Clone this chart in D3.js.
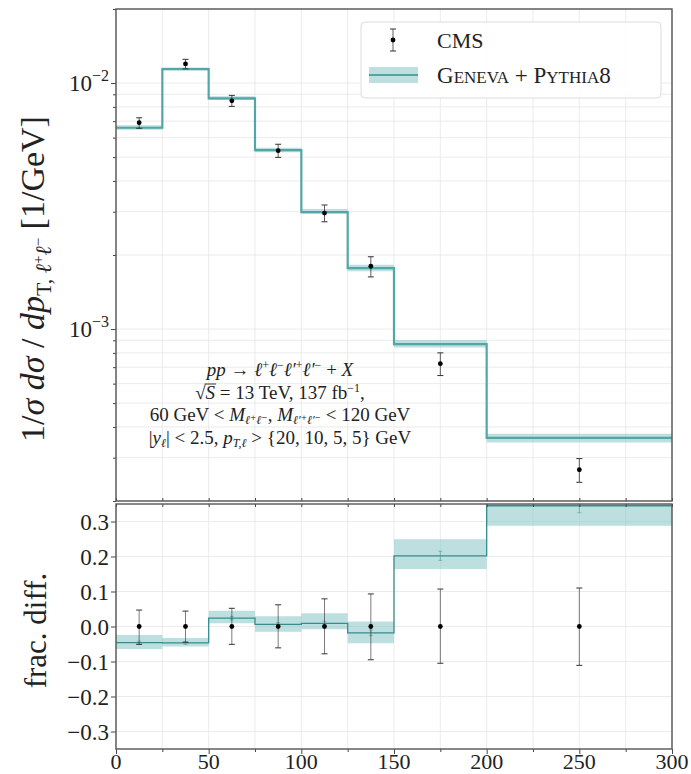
<!DOCTYPE html>
<html>
<head>
<meta charset="utf-8">
<script src="https://cdn.jsdelivr.net/npm/d3@7"></script>
<style>
  body { margin: 0; background: #fff; }
  svg text { font-family: "Liberation Serif", "DejaVu Serif", serif; fill: #222; }
</style>
</head>
<body>
<div id="chart"></div>
<script>
// bins in pT (GeV)
var binEdges = [0, 25, 50, 75, 100, 125, 150, 200, 300];
var binCenters = [12.5, 37.5, 62.5, 87.5, 112.5, 137.5, 175, 250];

// Geneva + Pythia8 prediction, 1/sigma dsigma/dpT [1/GeV]
var genevaValues = [6.58e-3, 1.14e-2, 8.67e-3, 5.34e-3, 2.99e-3, 1.77e-3, 8.69e-4, 3.61e-4];
// fractional difference wrt CMS, with scale band
var genevaFrac   = [-0.046, -0.047, 0.024, 0.006, 0.009, -0.018, 0.202, 0.345];
var genevaFracLo = [-0.064, -0.057, 0.009, -0.015, -0.008, -0.048, 0.164, 0.288];
var genevaFracHi = [-0.024, -0.033, 0.045, 0.029, 0.038, 0.014, 0.249, 0.400];
var genevaStatErr = [0.004, 0.004, 0.005, 0.005, 0.006, 0.008, 0.013, 0.020];

// CMS data
var cmsValues  = [6.90e-3, 1.196e-2, 8.47e-3, 5.31e-3, 2.96e-3, 1.80e-3, 7.23e-4, 2.68e-4];
var cmsErrUp   = [0.047, 0.044, 0.052, 0.062, 0.079, 0.093, 0.107, 0.110];
var cmsErrDown = [0.051, 0.045, 0.051, 0.061, 0.078, 0.095, 0.105, 0.111];

var xTicks = [0, 50, 100, 150, 200, 250, 300];
var xMinorTicks = [25, 75, 125, 175, 225, 275];
var yTopTicks = [1e-3, 1e-2];
var yRatioTicks = [-0.3, -0.2, -0.1, 0.0, 0.1, 0.2, 0.3];

var W = 691, H = 774;
var left = 116, right = 672;
var topPanel = { top: 9, bottom: 501 };
var ratioPanel = { top: 504, bottom: 749 };
var lineTop = '#52a6a6', lineRatio = '#3a8c8c', bandCol = '#86c4c4';
var frameCol = '#555', gridCol = '#e6e6e6';

var svg = d3.select('#chart').append('svg')
  .attr('width', W).attr('height', H);

var x = d3.scaleLinear().domain([0, 300]).range([left, right]);
var yTop = d3.scaleLog().domain([2e-4, 2e-2]).range([topPanel.bottom, topPanel.top]);
var yRatio = d3.scaleLinear().domain([-0.35, 0.35]).range([ratioPanel.bottom, ratioPanel.top]);

var defs = svg.append('defs');
defs.append('clipPath').attr('id', 'clipTop').append('rect')
  .attr('x', left).attr('y', topPanel.top).attr('width', right - left).attr('height', topPanel.bottom - topPanel.top);
defs.append('clipPath').attr('id', 'clipRatio').append('rect')
  .attr('x', left).attr('y', ratioPanel.top).attr('width', right - left).attr('height', ratioPanel.bottom - ratioPanel.top);

// log minor ticks 2..9 per decade
var yTopMinor = [];
[1e-4, 1e-3, 1e-2].forEach(d => {
  for (var k = 2; k <= 9; k++) {
    var v = d * k;
    if (v >= 2e-4 && v <= 2e-2) yTopMinor.push(v);
  }
});

// rich text: segs = [text, {size, it, shift}]; shift is baseline offset (px, + = down)
function rich(sel, segs, base) {
  var cur = 0;
  segs.forEach(s => {
    var o = s[1] || {};
    var sh = o.shift || 0;
    var t = sel.append('tspan').text(s[0]).attr('font-size', o.size || base);
    if (o.it) t.attr('font-style', 'italic');
    if (sh !== cur) { t.attr('dy', sh - cur); cur = sh; }
  });
}

// ---------- grids ----------
var gTop = svg.append('g');
var gRatio = svg.append('g');
var allX = xTicks.concat(xMinorTicks);

gTop.selectAll('.vgrid').data(allX).enter().append('line')
  .attr('x1', d => x(d)).attr('x2', d => x(d))
  .attr('y1', topPanel.top).attr('y2', topPanel.bottom)
  .attr('stroke', gridCol).attr('stroke-width', 0.8);
gTop.selectAll('.hgrid').data(yTopTicks.concat(yTopMinor)).enter().append('line')
  .attr('x1', left).attr('x2', right)
  .attr('y1', d => yTop(d)).attr('y2', d => yTop(d))
  .attr('stroke', gridCol).attr('stroke-width', 0.8);

gRatio.selectAll('.vgrid').data(allX).enter().append('line')
  .attr('x1', d => x(d)).attr('x2', d => x(d))
  .attr('y1', ratioPanel.top).attr('y2', ratioPanel.bottom)
  .attr('stroke', gridCol).attr('stroke-width', 0.8);
gRatio.selectAll('.hgrid').data(yRatioTicks).enter().append('line')
  .attr('x1', left).attr('x2', right)
  .attr('y1', d => yRatio(d)).attr('y2', d => yRatio(d))
  .attr('stroke', gridCol).attr('stroke-width', 0.8);

// ---------- step helpers ----------
function stepPoints(vals) {
  return binEdges.map((e, i) => [e, vals[Math.min(i, vals.length - 1)]]);
}

// ---------- top panel ----------
var topMarks = svg.append('g').attr('clip-path', 'url(#clipTop)');
var topLo = genevaValues.map((v, i) => v * (1 + genevaFracLo[i]) / (1 + genevaFrac[i]));
var topHi = genevaValues.map((v, i) => v * (1 + genevaFracHi[i]) / (1 + genevaFrac[i]));

var bandTop = d3.area().curve(d3.curveStepAfter)
  .x(d => x(d[0])).y0(d => yTop(d[1])).y1(d => yTop(d[2]));
topMarks.append('path')
  .datum(binEdges.map((e, i) => { var j = Math.min(i, 7); return [e, topLo[j], topHi[j]]; }))
  .attr('d', bandTop).attr('fill', bandCol).attr('fill-opacity', 0.55);

topMarks.append('path')
  .datum(stepPoints(genevaValues))
  .attr('d', d3.line().curve(d3.curveStepAfter).x(d => x(d[0])).y(d => yTop(d[1])))
  .attr('fill', 'none').attr('stroke', lineTop).attr('stroke-width', 2.2);

// CMS points top
var cmsTop = topMarks.selectAll('.cms').data(cmsValues).enter().append('g');
cmsTop.append('line')
  .attr('x1', (d, i) => x(binCenters[i])).attr('x2', (d, i) => x(binCenters[i]))
  .attr('y1', (d, i) => yTop(d * (1 + cmsErrUp[i]))).attr('y2', (d, i) => yTop(d * (1 - cmsErrDown[i])))
  .attr('stroke', '#333').attr('stroke-width', 0.8);
[cmsErrUp.map(e => 1 + e), cmsErrDown.map(e => 1 - e)].forEach(f => {
  cmsTop.append('line')
    .attr('x1', (d, i) => x(binCenters[i]) - 3).attr('x2', (d, i) => x(binCenters[i]) + 3)
    .attr('y1', (d, i) => yTop(d * f[i])).attr('y2', (d, i) => yTop(d * f[i]))
    .attr('stroke', '#333').attr('stroke-width', 1);
});
cmsTop.append('circle')
  .attr('cx', (d, i) => x(binCenters[i])).attr('cy', d => yTop(d))
  .attr('r', 2.4).attr('fill', '#000');

// ---------- ratio panel ----------
var ratioMarks = svg.append('g').attr('clip-path', 'url(#clipRatio)');
ratioMarks.append('path')
  .datum(binEdges.map((e, i) => { var j = Math.min(i, 7); return [e, genevaFracLo[j], genevaFracHi[j]]; }))
  .attr('d', d3.area().curve(d3.curveStepAfter).x(d => x(d[0])).y0(d => yRatio(d[1])).y1(d => yRatio(d[2])))
  .attr('fill', bandCol).attr('fill-opacity', 0.55);
ratioMarks.append('path')
  .datum(stepPoints(genevaFrac))
  .attr('d', d3.line().curve(d3.curveStepAfter).x(d => x(d[0])).y(d => yRatio(d[1])))
  .attr('fill', 'none').attr('stroke', lineRatio).attr('stroke-width', 1.3);

// geneva stat errors (small teal bars)
var gStat = ratioMarks.selectAll('.gstat').data(genevaFrac).enter().append('g');
gStat.append('line')
  .attr('x1', (d, i) => x(binCenters[i])).attr('x2', (d, i) => x(binCenters[i]))
  .attr('y1', (d, i) => yRatio(d + genevaStatErr[i])).attr('y2', (d, i) => yRatio(d - genevaStatErr[i]))
  .attr('stroke', lineRatio).attr('stroke-width', 0.7).attr('stroke-opacity', 0.7);
[1, -1].forEach(s => {
  gStat.append('line')
    .attr('x1', (d, i) => x(binCenters[i]) - 2).attr('x2', (d, i) => x(binCenters[i]) + 2)
    .attr('y1', (d, i) => yRatio(d + s * genevaStatErr[i])).attr('y2', (d, i) => yRatio(d + s * genevaStatErr[i]))
    .attr('stroke', lineRatio).attr('stroke-width', 0.7).attr('stroke-opacity', 0.7);
});

// CMS in ratio: zero with relative errors
var cmsR = ratioMarks.selectAll('.cmsr').data(binCenters).enter().append('g');
cmsR.append('line')
  .attr('x1', d => x(d)).attr('x2', d => x(d))
  .attr('y1', (d, i) => yRatio(cmsErrUp[i])).attr('y2', (d, i) => yRatio(-cmsErrDown[i]))
  .attr('stroke', '#444').attr('stroke-width', 0.7);
[cmsErrUp, cmsErrDown.map(e => -e)].forEach(arr => {
  cmsR.append('line')
    .attr('x1', d => x(d) - 3).attr('x2', d => x(d) + 3)
    .attr('y1', (d, i) => yRatio(arr[i])).attr('y2', (d, i) => yRatio(arr[i]))
    .attr('stroke', '#333').attr('stroke-width', 1);
});
cmsR.append('circle')
  .attr('cx', d => x(d)).attr('cy', yRatio(0)).attr('r', 2.4).attr('fill', '#000');

// ---------- axes ----------
function styleAxis(g) {
  g.select('.domain').remove();
  g.selectAll('.tick line').attr('stroke', '#444').attr('stroke-width', 1);
  g.selectAll('.tick text').remove();
}

svg.append('g').attr('transform', `translate(${left},0)`)
  .call(d3.axisLeft(yTop).tickValues(yTopTicks).tickSize(5).tickFormat(''))
  .call(styleAxis);
svg.append('g').attr('transform', `translate(${left},0)`)
  .call(d3.axisLeft(yTop).tickValues(yTopMinor).tickSize(3).tickFormat(''))
  .call(styleAxis);
svg.append('g').attr('transform', `translate(${left},0)`)
  .call(d3.axisLeft(yRatio).tickValues(yRatioTicks).tickSize(5).tickFormat(''))
  .call(styleAxis);
svg.append('g').attr('transform', `translate(0,${ratioPanel.bottom})`)
  .call(d3.axisBottom(x).tickValues(xTicks).tickSize(5).tickFormat(''))
  .call(styleAxis);
svg.append('g').attr('transform', `translate(0,${ratioPanel.bottom})`)
  .call(d3.axisBottom(x).tickValues(xMinorTicks).tickSize(3).tickFormat(''))
  .call(styleAxis);
// small inner ticks along the panel junction
svg.append('g').attr('transform', `translate(0,${topPanel.bottom})`)
  .call(d3.axisTop(x).tickValues(allX).tickSize(3).tickFormat(''))
  .call(styleAxis);
svg.append('g').attr('transform', `translate(0,${ratioPanel.top})`)
  .call(d3.axisBottom(x).tickValues(allX).tickSize(3).tickFormat(''))
  .call(styleAxis);

// frames
[topPanel, ratioPanel].forEach(p => {
  svg.append('rect')
    .attr('x', left).attr('y', p.top).attr('width', right - left).attr('height', p.bottom - p.top)
    .attr('fill', 'none').attr('stroke', frameCol).attr('stroke-width', 1.4);
});

// tick labels
svg.selectAll('.xl').data(xTicks).enter().append('text')
  .attr('x', d => x(d)).attr('y', 769).attr('text-anchor', 'middle')
  .attr('font-size', 22).text(d => d);

svg.selectAll('.yrl').data(yRatioTicks).enter().append('text')
  .attr('x', 109).attr('y', d => yRatio(d) + 8).attr('text-anchor', 'end')
  .attr('font-size', 23).text(d => (d < 0 ? '\u2212' : '') + Math.abs(d).toFixed(1));

var ytl = svg.selectAll('.ytl').data(yTopTicks).enter().append('text')
  .attr('x', 109).attr('y', d => yTop(d) + 8).attr('text-anchor', 'end').attr('font-size', 23);
ytl.append('tspan').text('10');
ytl.append('tspan').attr('font-size', 16).attr('dy', -10).text(d => '\u2212' + Math.round(-Math.log10(d)));

// axis titles
var yt = svg.append('text')
  .attr('transform', `translate(44,${(topPanel.top + topPanel.bottom) / 2 + 24}) rotate(-90)`)
  .attr('text-anchor', 'middle');
rich(yt, [
  ['1/'], ['σ', { it: true }], [' d', { it: true }], ['σ', { it: true }], [' /'], [' dp', { it: true }],
  ['T, ', { size: 22, shift: 7 }], ['ℓ', { size: 22, it: true, shift: 7 }], ['+', { size: 15, shift: -1 }],
  ['ℓ', { size: 22, it: true, shift: 7 }], ['\u2212', { size: 15, shift: -1 }],
  ['  [1/GeV]']
], 34);

svg.append('text')
  .attr('transform', `translate(46,${(ratioPanel.top + ratioPanel.bottom) / 2 + 4}) rotate(-90)`)
  .attr('text-anchor', 'middle').attr('font-size', 31).text('frac. diff.');

// ---------- annotation ----------
var cx = 280, fs = 19, ss = 12;
var l1 = svg.append('text').attr('x', cx).attr('y', 376).attr('text-anchor', 'middle');
rich(l1, [
  ['pp', { it: true }], [' → '],
  ['ℓ', { it: true }], ['+', { size: ss, shift: -7 }],
  ['ℓ', { it: true }], ['\u2212', { size: ss, shift: -7 }],
  ['ℓ′', { it: true }], ['+', { size: ss, shift: -7 }],
  ['ℓ′', { it: true }], ['\u2212', { size: ss, shift: -7 }],
  [' + '], ['X', { it: true }]
], fs);

var l2 = svg.append('text').attr('x', cx).attr('y', 398.5).attr('text-anchor', 'middle');
rich(l2, [
  ['√'], ['S', { it: true }], [' = 13 TeV, 137 fb'], ['\u22121', { size: ss, shift: -7 }], [',']
], fs);

var l3 = svg.append('text').attr('x', cx).attr('y', 421).attr('text-anchor', 'middle');
rich(l3, [
  ['60 GeV < '], ['M', { it: true }], ['ℓ⁺ℓ⁻', { size: ss, it: true, shift: 3 }],
  [', '], ['M', { it: true }], ['ℓ′⁺ℓ′⁻', { size: ss, it: true, shift: 3 }], [' < 120 GeV']
], fs);

var l4 = svg.append('text').attr('x', cx).attr('y', 444).attr('text-anchor', 'middle');
rich(l4, [
  ['|'], ['y', { it: true }], ['ℓ', { size: ss, it: true, shift: 3 }], ['| < 2.5, '],
  ['p', { it: true }], ['T,ℓ', { size: ss, it: true, shift: 3 }], [' > {20, 10, 5, 5} GeV']
], fs);

// sqrt overbar above the S
(function () {
  var n = l2.node();
  var s = n.getStartPositionOfChar(1), e = n.getEndPositionOfChar(1);
  svg.append('line')
    .attr('x1', s.x - 1).attr('x2', e.x + 1)
    .attr('y1', 398.5 - 14.5).attr('y2', 398.5 - 14.5)
    .attr('stroke', '#222').attr('stroke-width', 0.9);
})();

// ---------- legend ----------
var lg = svg.append('g');
lg.append('rect').attr('x', 361).attr('y', 22).attr('width', 300).attr('height', 76).attr('rx', 4)
  .attr('fill', '#fff').attr('fill-opacity', 0.85).attr('stroke', '#dcdcdc').attr('stroke-width', 1);
// CMS symbol
lg.append('line').attr('x1', 393).attr('x2', 393).attr('y1', 29).attr('y2', 51).attr('stroke', '#333').attr('stroke-width', 0.8);
[29, 51].forEach(yy => lg.append('line').attr('x1', 390).attr('x2', 396).attr('y1', yy).attr('y2', yy).attr('stroke', '#333'));
lg.append('circle').attr('cx', 393).attr('cy', 40).attr('r', 2.4).attr('fill', '#000');
lg.append('text').attr('x', 437).attr('y', 48).attr('font-size', 22).text('CMS');
// Geneva symbol
lg.append('rect').attr('x', 369).attr('y', 67).attr('width', 49).attr('height', 16).attr('fill', bandCol).attr('fill-opacity', 0.55);
lg.append('line').attr('x1', 369).attr('x2', 418).attr('y1', 75).attr('y2', 75).attr('stroke', lineRatio).attr('stroke-width', 1.6);
var gt = lg.append('text').attr('x', 437).attr('y', 83);
rich(gt, [['G'], ['ENEVA', { size: 17 }], [' + P'], ['YTHIA', { size: 17 }], ['8']], 23);
</script>
</body>
</html>
